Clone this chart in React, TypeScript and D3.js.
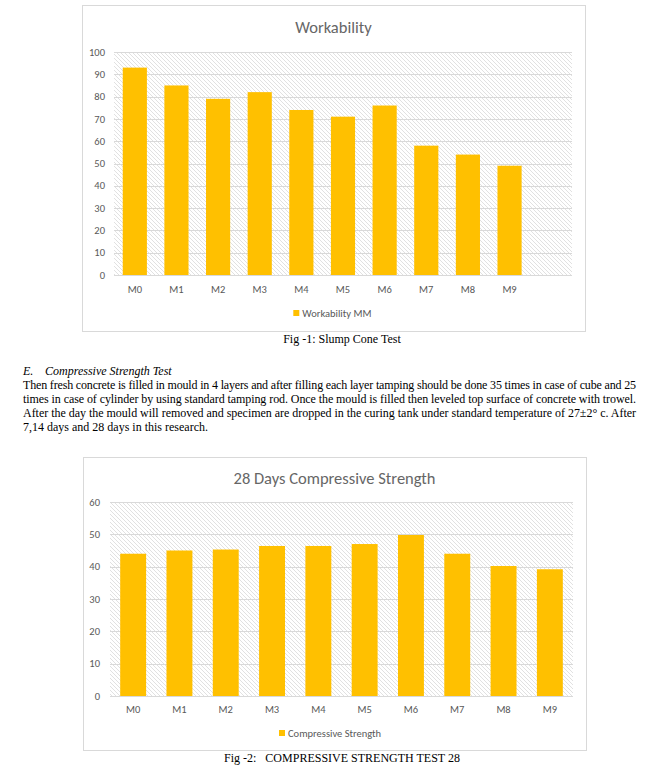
import React from "react";
import * as d3 from "d3";

const categories = ["M0", "M1", "M2", "M3", "M4", "M5", "M6", "M7", "M8", "M9"];
const workability = [93, 85, 79, 82, 74, 71, 76, 58, 54, 49];
const strength28 = [44, 45, 45.3, 46.4, 46.4, 47, 49.8, 44, 40.2, 39.2];
const workTicks = [0, 10, 20, 30, 40, 50, 60, 70, 80, 90, 100];
const strengthTicks = [0, 10, 20, 30, 40, 50, 60];
const paragraph = [
  "Then fresh concrete is filled in mould in 4 layers and after filling each layer tamping should be done 35 times in case of cube and 25",
  "times in case of cylinder by using standard tamping rod. Once the mould is filled then leveled top surface of concrete with trowel.",
  "After the day the mould will removed and specimen are dropped in the curing tank under standard temperature of 27\u00b12\u00b0 c. After",
  "7,14 days and 28 days in this research.",
];

const CHART_FONT = "Carlito, Calibri, Lato, sans-serif";
const SERIF = "'Liberation Serif', 'Times New Roman', serif";
const BAR = "#FFC000";

type ChartProps = {
  id: string;
  box: { x0: number; y0: number; x1: number; y1: number };
  plot: { x0: number; y0: number; x1: number; y1: number };
  title: string;
  titleY: number;
  slots: string[];
  values: number[];
  ticks: number[];
  yMax: number;
  padding: number;
  labelY: number;
  legendY: number;
  legend: string;
  labelRight: number;
};

function BarChart(p: ChartProps) {
  const x = d3
    .scaleBand<string>()
    .domain(p.slots)
    .range([p.plot.x0, p.plot.x1])
    .paddingInner(p.padding)
    .paddingOuter(p.padding / 2);
  const y = d3.scaleLinear().domain([0, p.yMax]).range([p.plot.y1, p.plot.y0]);
  const cx = (p.box.x0 + p.box.x1) / 2;
  return (
    <g>
      <rect
        x={p.box.x0 + 0.5}
        y={p.box.y0 + 0.5}
        width={p.box.x1 - p.box.x0}
        height={p.box.y1 - p.box.y0}
        fill="#fff"
        stroke="#d9d9d9"
        strokeWidth={1}
      />
      <rect
        x={p.plot.x0}
        y={p.plot.y0}
        width={p.plot.x1 - p.plot.x0}
        height={p.plot.y1 - p.plot.y0}
        fill={`url(#${p.id})`}
      />
      {p.ticks.map((t) => (
        <g key={t}>
          <line
            x1={p.plot.x0}
            x2={p.plot.x1}
            y1={Math.round(y(t)) + 0.5}
            y2={Math.round(y(t)) + 0.5}
            stroke="#d9d9d9"
            strokeWidth={1}
          />
          <text
            x={p.labelRight}
            y={y(t)}
            dy="0.35em"
            textAnchor="end"
            fontSize={10.5}
            fill="#595959"
            fontFamily={CHART_FONT}
          >
            {t}
          </text>
        </g>
      ))}
      {categories.map((c, i) => (
        <g key={c}>
          <rect
            x={x(c)!}
            y={y(p.values[i])}
            width={x.bandwidth()}
            height={y(0) - y(p.values[i])}
            fill={BAR}
          />
          <text
            x={x(c)! + x.bandwidth() / 2}
            y={p.labelY}
            dy="0.35em"
            textAnchor="middle"
            fontSize={10.5}
            fill="#595959"
            fontFamily={CHART_FONT}
          >
            {c}
          </text>
        </g>
      ))}
      <text
        x={cx}
        y={p.titleY}
        dy="0.35em"
        textAnchor="middle"
        fontSize={16.5}
        fill="#666"
        fontFamily={CHART_FONT}
      >
        {p.title}
      </text>
      <LegendItem cx={cx} y={p.legendY} label={p.legend} />
    </g>
  );
}

function LegendItem({ cx, y, label }: { cx: number; y: number; label: string }) {
  const w = label.length * 5.1 + 9;
  const x0 = cx - w / 2;
  return (
    <g>
      <rect x={x0} y={y - 3} width={6} height={6} fill={BAR} />
      <text x={x0 + 9} y={y} dy="0.35em" fontSize={10.5} fill="#595959" fontFamily={CHART_FONT}>
        {label}
      </text>
    </g>
  );
}

export default function App() {
  return (
    <svg
      width={671}
      height={779}
      style={{ position: "absolute", left: 0, top: 0, background: "#fff" }}
    >
      <defs>
        {["hatch1", "hatch2"].map((id) => (
          <pattern key={id} id={id} width={4} height={4} patternUnits="userSpaceOnUse">
            <rect width={4} height={4} fill="#fff" />
            <path d="M-1,-1 L5,5 M-1,3 L1,5 M3,-1 L5,1" stroke="#dedede" strokeWidth={0.9} />
          </pattern>
        ))}
      </defs>
      <rect width={671} height={779} fill="#fff" />
      <BarChart
        id="hatch1"
        box={{ x0: 82, y0: 5, x1: 585, y1: 331 }}
        plot={{ x0: 114, y0: 52, x1: 572, y1: 275 }}
        title="Workability"
        titleY={27}
        slots={[...categories, ""]}
        values={workability}
        ticks={workTicks}
        yMax={100}
        padding={0.42}
        labelY={289}
        legendY={313}
        legend="Workability MM"
        labelRight={105}
      />
      <text x={342} y={339} dy="0.35em" textAnchor="middle" fontSize={12} fontFamily={SERIF} fill="#000">
        Fig -1: Slump Cone Test
      </text>
      <text x={23} y={371} dy="0.35em" fontSize={12} fontFamily={SERIF} fontStyle="italic" fill="#000">
        <tspan>E.</tspan>
        <tspan x={45}>Compressive Strength Test</tspan>
      </text>
      {paragraph.map((line, i) => (
        <text
          key={i}
          x={23}
          y={385 + i * 14}
          dy="0.35em"
          fontSize={12}
          fontFamily={SERIF}
          fill="#000"
          {...(i < paragraph.length - 1 ? { textLength: 613, lengthAdjust: "spacing" } : {})}
        >
          {line}
        </text>
      ))}
      <BarChart
        id="hatch2"
        box={{ x0: 83, y0: 457, x1: 586, y1: 750 }}
        plot={{ x0: 110, y0: 502, x1: 573, y1: 696 }}
        title="28 Days Compressive Strength"
        titleY={478}
        slots={categories}
        values={strength28}
        ticks={strengthTicks}
        yMax={60}
        padding={0.44}
        labelY={709}
        legendY={733}
        legend="Compressive Strength"
        labelRight={100}
      />
      <text x={342} y={758} dy="0.35em" textAnchor="middle" fontSize={12} fontFamily={SERIF} fill="#000" xmlSpace="preserve">
        {"Fig -2:   COMPRESSIVE STRENGTH TEST 28"}
      </text>
    </svg>
  );
}
